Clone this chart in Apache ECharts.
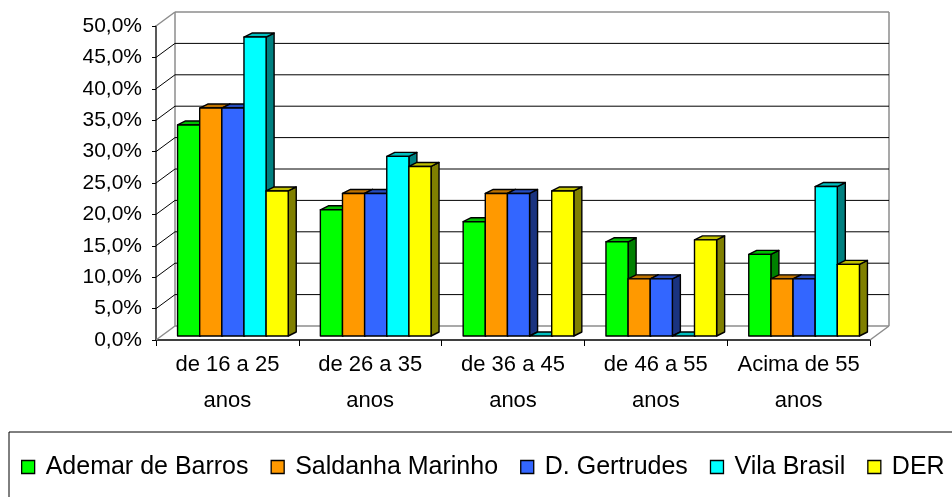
<!DOCTYPE html>
<html>
<head>
<meta charset="utf-8">
<script src="https://cdn.jsdelivr.net/npm/echarts@6/dist/echarts.min.js"></script>
<style>
  html, body { margin: 0; padding: 0; background: #ffffff; }
  #chart { width: 952px; height: 497px; }
</style>
</head>
<body>
<div id="chart"></div>
<script>
// Age brackets on the category axis
const categories = ['de 16 a 25\nanos', 'de 26 a 35\nanos', 'de 36 a 45\nanos', 'de 46 a 55\nanos', 'Acima de 55\nanos'];
const seriesNames = ['Ademar de Barros', 'Saldanha Marinho', 'D. Gertrudes', 'Vila Brasil', 'DER'];

// Share of respondents (%) per bracket
const ademarDeBarros  = [33.6, 20.1, 18.2, 15.0, 13.0];
const saldanhaMarinho = [36.3, 22.7, 22.7, 9.1, 9.1];
const dGertrudes      = [36.3, 22.7, 22.7, 9.1, 9.1];
const vilaBrasil      = [47.6, 28.6, 0, 0, 23.8];
const der             = [23.1, 27.0, 23.1, 15.3, 11.4];

// Value axis ticks
const yTicks = [0, 5, 10, 15, 20, 25, 30, 35, 40, 45, 50];

const seriesValues = [ademarDeBarros, saldanhaMarinho, dGertrudes, vilaBrasil, der];

// front / top / side shades for each column
const palette = [
  { front: '#00FF00', top: '#00BF00', side: '#008000' },
  { front: '#FF9900', top: '#BF7300', side: '#804D00' },
  { front: '#3366FF', top: '#264DBF', side: '#1A3380' },
  { front: '#00FFFF', top: '#00BFBF', side: '#008080' },
  { front: '#FFFF00', top: '#BFBF00', side: '#808000' }
];

// pseudo-3D projection: wall depth, column placement and column depth (px)
const WALL = [19, -14];
const COL_SHIFT = [5.5, -4];
const COL_DEPTH = [8, -4];
const GROUP_RATIO = 0.775;
const WALL_GREY = '#8c8c8c';

const chart = echarts.init(document.getElementById('chart'), null, { renderer: 'canvas' });

function plotEdges(api) {
  const band = api.size([1, 0])[0];
  const first = api.coord([0, 0]);
  const last = api.coord([categories.length - 1, 0]);
  return { x0: first[0] - band / 2, x1: last[0] + band / 2, band: band };
}

// walls: back wall outline, floor back edge and right floor edge
function renderFrame(params, api) {
  const e = plotEdges(api);
  const y0 = api.coord([0, yTicks[0]])[1];
  const yTop = api.coord([0, yTicks[yTicks.length - 1]])[1];
  const bx0 = e.x0 + WALL[0], bx1 = e.x1 + WALL[0];
  const by0 = y0 + WALL[1], byTop = yTop + WALL[1];
  const st = { stroke: WALL_GREY, lineWidth: 1.5, fill: null };
  return {
    type: 'group',
    children: [
      { type: 'line', shape: { x1: bx0, y1: by0, x2: bx0, y2: byTop }, style: st },
      { type: 'line', shape: { x1: bx1, y1: by0, x2: bx1, y2: byTop }, style: st },
      { type: 'line', shape: { x1: bx0, y1: byTop, x2: bx1, y2: byTop }, style: st },
      { type: 'line', shape: { x1: bx0, y1: by0, x2: bx1, y2: by0 }, style: st },
      { type: 'line', shape: { x1: e.x1, y1: y0, x2: bx1, y2: by0 }, style: st }
    ]
  };
}

// gridlines: diagonal on the side wall plus horizontal on the back wall
function renderGrid(params, api) {
  const v = api.value(1);
  const e = plotEdges(api);
  const y = api.coord([0, v])[1];
  const edge = (v === yTicks[0] || v === yTicks[yTicks.length - 1]);
  const color = edge ? WALL_GREY : '#000000';
  const children = [
    { type: 'line', shape: { x1: e.x0, y1: y, x2: e.x0 + WALL[0], y2: y + WALL[1] },
      style: { stroke: color, lineWidth: edge ? 1.5 : 1 } }
  ];
  if (!edge) {
    children.push({ type: 'line',
      shape: { x1: e.x0 + WALL[0], y1: y + WALL[1], x2: e.x1 + WALL[0], y2: y + WALL[1] },
      style: { stroke: '#000000', lineWidth: 1 } });
  }
  return { type: 'group', children: children };
}

function makeColumnRenderer(idx) {
  const c = palette[idx];
  return function (params, api) {
    const cat = api.value(0);
    const val = api.value(1);
    const base = api.coord([cat, 0]);
    const top = api.coord([cat, val]);
    const band = api.size([1, 0])[0];
    const groupW = band * GROUP_RATIO;
    const barW = groupW / seriesValues.length;
    const xa = base[0] - groupW / 2 + idx * barW + COL_SHIFT[0];
    const xb = xa + barW;
    const yb = base[1] + COL_SHIFT[1];
    const yt = top[1] + COL_SHIFT[1];
    const dx = COL_DEPTH[0], dy = COL_DEPTH[1];
    const outline = { stroke: '#000000', lineWidth: 1.4, lineJoin: 'round' };
    const children = [
      { type: 'polygon',
        shape: { points: [[xb, yt], [xb + dx, yt + dy], [xb + dx, yb + dy], [xb, yb]] },
        style: Object.assign({ fill: c.side }, outline) },
      { type: 'polygon',
        shape: { points: [[xa, yt], [xa + dx, yt + dy], [xb + dx, yt + dy], [xb, yt]] },
        style: Object.assign({ fill: c.top }, outline) }
    ];
    if (val > 0) {
      children.push({ type: 'rect',
        shape: { x: xa, y: yt, width: barW, height: yb - yt },
        style: Object.assign({ fill: c.front }, outline) });
    }
    return { type: 'group', children: children };
  };
}

const series = [
  { type: 'custom', name: '_frame', z: 1, silent: true, renderItem: renderFrame,
    data: [[0, 0]], encode: { x: 0, y: 1 } },
  { type: 'custom', name: '_grid', z: 1, silent: true, renderItem: renderGrid,
    data: yTicks.map(function (v) { return [0, v]; }), encode: { x: 0, y: 1 } }
];
seriesValues.forEach(function (vals, i) {
  series.push({
    type: 'custom',
    name: seriesNames[i],
    z: 2,
    itemStyle: { color: palette[i].front },
    renderItem: makeColumnRenderer(i),
    encode: { x: 0, y: 1 },
    data: vals.map(function (v, j) { return [j, v]; })
  });
});

const FONT = 'Liberation Sans, Arial, sans-serif';

chart.setOption({
  animation: false,
  backgroundColor: '#ffffff',
  grid: { left: 156, right: 82, top: 26, bottom: 157, containLabel: false },
  xAxis: {
    type: 'category',
    data: categories,
    boundaryGap: true,
    axisLine: { show: true, lineStyle: { color: '#000000', width: 1.5 } },
    axisTick: { show: true, length: 6, alignWithLabel: false, lineStyle: { color: '#000000' } },
    axisLabel: { interval: 0, margin: 7, fontSize: 22, lineHeight: 36, color: '#000000', fontFamily: FONT },
    splitLine: { show: false }
  },
  yAxis: {
    type: 'value',
    min: 0,
    max: 50,
    interval: 5,
    axisLine: { show: true, lineStyle: { color: '#222222', width: 1.5 } },
    axisTick: { show: true, length: 4, inside: false, lineStyle: { color: '#000000' } },
    axisLabel: {
      margin: 14, fontSize: 21, color: '#000000', fontFamily: FONT,
      formatter: function (v) { return v.toFixed(1).replace('.', ',') + '%'; }
    },
    splitLine: { show: false }
  },
  legend: {
    data: seriesNames,
    orient: 'horizontal',
    left: 9,
    top: 432,
    width: 1200,
    padding: [22, 14, 22, 12],
    borderColor: '#000000',
    borderWidth: 1,
    icon: 'rect',
    itemWidth: 13,
    itemHeight: 13,
    itemGap: 22,
    itemStyle: { borderColor: '#000000', borderWidth: 1.3 },
    textStyle: { fontSize: 25, lineHeight: 26, color: '#000000', fontFamily: FONT, padding: [0, 0, 0, 6] }
  },
  series: series
});
</script>
</body>
</html>
